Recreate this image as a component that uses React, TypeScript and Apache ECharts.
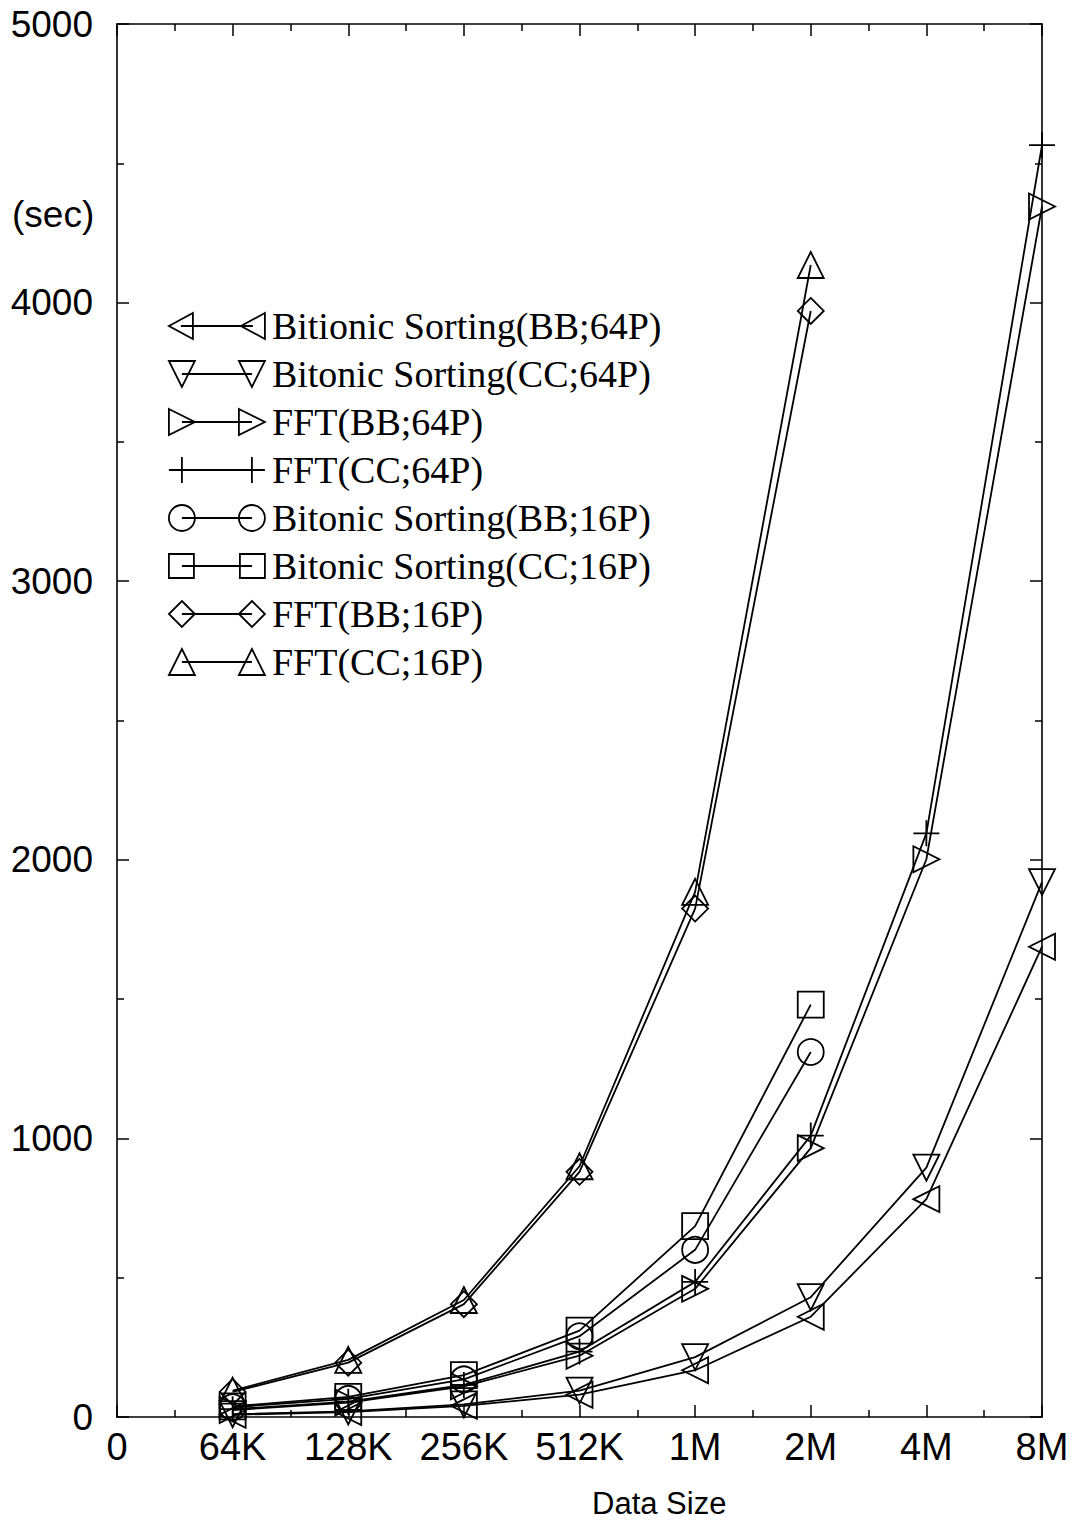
import React, { useEffect, useRef } from "react";
import * as echarts from "echarts";

const xLabels = ["0", "64K", "128K", "256K", "512K", "1M", "2M", "4M", "8M"];

const seriesNames = [
  "Bitionic Sorting(BB;64P)",
  "Bitonic Sorting(CC;64P)",
  "FFT(BB;64P)",
  "FFT(CC;64P)",
  "Bitonic Sorting(BB;16P)",
  "Bitonic Sorting(CC;16P)",
  "FFT(BB;16P)",
  "FFT(CC;16P)",
];

// values at 64K, 128K, 256K, 512K, 1M, 2M, 4M, 8M
const bitonicBB64 = [8, 18, 40, 80, 168, 360, 782, 1688];
const bitonicCC64 = [10, 20, 45, 95, 215, 430, 895, 1920];
const fftBB64 = [25, 52, 110, 220, 460, 965, 2002, 4345];
const fftCC64 = [28, 55, 115, 235, 485, 1010, 2095, 4565];
const bitonicBB16 = [35, 65, 135, 290, 600, 1310];
const bitonicCC16 = [38, 72, 150, 310, 685, 1480];
const fftBB16 = [90, 195, 405, 880, 1825, 3970];
const fftCC16 = [95, 205, 420, 900, 1885, 4135];

const seriesValues = [
  bitonicBB64,
  bitonicCC64,
  fftBB64,
  fftCC64,
  bitonicBB16,
  bitonicCC16,
  fftBB16,
  fftCC16,
];

const markerSymbols = [
  "path://M0,10 L20,0 L20,20 Z",
  "path://M0,0 L20,0 L10,20 Z",
  "path://M0,0 L20,10 L0,20 Z",
  "path://M10,0 L10,20 M0,10 L20,10",
  "circle",
  "rect",
  "diamond",
  "triangle",
];

// legend icons: marker - line - marker, in a 96 x 26 box
const legendIcons = [
  "path://M0,13 L24,0 L24,26 Z M12,13 L84,13 M72,13 L96,0 L96,26 Z",
  "path://M0,0 L26,0 L13,26 Z M13,13 L83,13 M70,0 L96,0 L83,26 Z",
  "path://M0,0 L26,13 L0,26 Z M13,13 L83,13 M70,0 L96,13 L70,26 Z",
  "path://M13,0 L13,26 M0,13 L96,13 M83,0 L83,26",
  "path://M0,13 A13,13 0 1,1 26,13 A13,13 0 1,1 0,13 Z M13,13 L83,13 M70,13 A13,13 0 1,1 96,13 A13,13 0 1,1 70,13 Z",
  "path://M0,1 L25,1 L25,25 L0,25 Z M13,13 L83,13 M71,1 L96,1 L96,25 L71,25 Z",
  "path://M13,0 L26,13 L13,26 L0,13 Z M13,13 L83,13 M83,0 L96,13 L83,26 L70,13 Z",
  "path://M13,0 L26,26 L0,26 Z M13,13 L83,13 M83,0 L96,26 L70,26 Z",
];

const GRID = { left: 117, right: 33, top: 24, bottom: 111 };
const SANS = "Liberation Sans";
const SERIF = "Liberation Serif";

export default function App() {
  const ref = useRef<HTMLDivElement>(null);

  useEffect(() => {
    if (!ref.current) return;
    const chart = echarts.init(ref.current, undefined, { renderer: "svg" });

    const axisCommon = {
      axisLine: { show: true, onZero: false, lineStyle: { color: "#000", width: 1.6 } },
      axisTick: { show: true, inside: true, length: 12, lineStyle: { color: "#000", width: 1.5 } },
      minorTick: { show: true, splitNumber: 2, length: 7, lineStyle: { color: "#000", width: 1.5 } },
      splitLine: { show: false },
      minorSplitLine: { show: false },
    };

    const series = seriesNames.map((name, si) => ({
      name,
      type: "line",
      xAxisIndex: 0,
      yAxisIndex: 0,
      data: seriesValues[si].map((v, i) => [i + 1, v]),
      symbol: markerSymbols[si],
      symbolSize: 26,
      showAllSymbol: true,
      lineStyle: { color: "#000", width: 1.8 },
      itemStyle: { color: "transparent", borderColor: "#000", borderWidth: 1.8 },
      emphasis: { disabled: true },
      z: 2,
    }));

    chart.setOption({
      animation: false,
      backgroundColor: "#fff",
      grid: { ...GRID, containLabel: false },
      xAxis: [
        {
          type: "value",
          min: 0,
          max: 8,
          interval: 1,
          position: "bottom",
          ...axisCommon,
          axisLabel: {
            show: true,
            margin: 11,
            color: "#000",
            fontFamily: SANS,
            fontSize: 38,
            formatter: (v: number) => xLabels[v] ?? "",
          },
        },
        {
          type: "value",
          min: 0,
          max: 8,
          interval: 1,
          position: "top",
          ...axisCommon,
          axisLabel: { show: false },
        },
      ],
      yAxis: [
        {
          type: "value",
          min: 0,
          max: 5000,
          interval: 1000,
          position: "left",
          ...axisCommon,
          axisLabel: {
            show: true,
            margin: 24,
            color: "#000",
            fontFamily: SANS,
            fontSize: 37,
            formatter: (v: number) => String(v),
          },
        },
        {
          type: "value",
          min: 0,
          max: 5000,
          interval: 1000,
          position: "right",
          ...axisCommon,
          axisLabel: { show: false },
        },
      ],
      legend: {
        orient: "vertical",
        left: 168,
        top: 306,
        padding: 0,
        itemGap: 8,
        itemWidth: 96,
        itemHeight: 26,
        selectedMode: false,
        itemStyle: { color: "transparent", borderColor: "#000", borderWidth: 1.8 },
        textStyle: {
          color: "#000",
          fontFamily: SERIF,
          fontSize: 38,
          lineHeight: 40,
          padding: [0, 0, 0, 2],
        },
        data: seriesNames.map((name, i) => ({ name, icon: legendIcons[i] })),
      },
      graphic: [
        {
          type: "text",
          left: 12,
          top: 196,
          style: { text: "(sec)", fill: "#000", font: `37px "${SANS}"` },
        },
        {
          type: "text",
          left: 592,
          top: 1488,
          style: { text: "Data Size", fill: "#000", font: `31px "${SANS}"` },
        },
      ],
      series,
    });

    return () => chart.dispose();
  }, []);

  return (
    <div
      ref={ref}
      style={{ position: "absolute", left: 0, top: 0, width: 1075, height: 1528, background: "#fff" }}
    />
  );
}
